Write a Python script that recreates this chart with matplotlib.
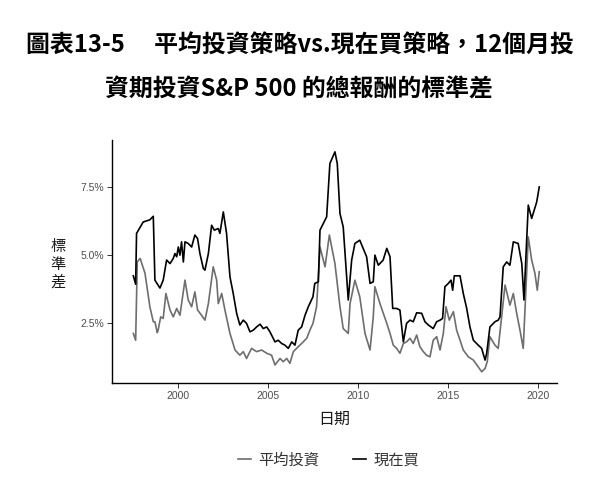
import numpy as np
import matplotlib.pyplot as plt

plt.rcParams['font.family'] = ['Noto Sans CJK TC', 'DejaVu Sans']

# decimal year, std dev in %
yr_now = [1997.52, 1997.65, 1997.70, 1998.07, 1998.44, 1998.63, 1998.72, 1999.00, 1999.18,
          1999.37, 1999.56, 1999.74, 1999.83, 1999.93, 2000.02, 2000.11, 2000.20, 2000.30,
          2000.39, 2000.57, 2000.76, 2000.94, 2001.09, 2001.22, 2001.41, 2001.50, 2001.69,
          2001.87, 2002.02, 2002.24, 2002.33, 2002.52, 2002.70, 2002.89, 2003.07, 2003.26,
          2003.44, 2003.63, 2003.81, 2004.00, 2004.18, 2004.37, 2004.56, 2004.74, 2004.93,
          2005.11, 2005.39, 2005.57, 2005.76, 2005.94, 2006.13, 2006.32, 2006.50, 2006.68,
          2006.87, 2007.06, 2007.24, 2007.50, 2007.60, 2007.80, 2007.89, 2008.26, 2008.44,
          2008.72, 2008.85, 2009.00, 2009.18, 2009.46, 2009.65, 2009.83, 2010.10, 2010.48,
          2010.67, 2010.85, 2010.94, 2011.13, 2011.40, 2011.60, 2011.78, 2011.93, 2012.15,
          2012.33, 2012.52, 2012.70, 2012.89, 2013.07, 2013.26, 2013.54, 2013.72, 2013.91,
          2014.18, 2014.37, 2014.56, 2014.70, 2014.83, 2015.02, 2015.17, 2015.26, 2015.35,
          2015.67, 2015.85, 2016.04, 2016.22, 2016.41, 2016.68, 2016.87, 2017.06, 2017.15,
          2017.33, 2017.61, 2017.79, 2017.89, 2018.07, 2018.26, 2018.44, 2018.63, 2018.90,
          2019.10, 2019.22, 2019.46, 2019.65, 2019.93, 2020.07]
sd_now = [4.24, 3.93, 5.80, 6.22, 6.30, 6.43, 4.08, 3.79, 4.08,
          4.82, 4.69, 4.88, 5.06, 4.94, 5.30, 5.00, 5.49, 4.75,
          5.49, 5.43, 5.30, 5.74, 5.61, 5.06, 4.51, 4.45, 5.06,
          6.10, 5.92, 5.98, 5.80, 6.59, 5.80, 4.20, 3.59, 2.86,
          2.43, 2.61, 2.49, 2.18, 2.24, 2.36, 2.46, 2.30, 2.36,
          2.18, 1.81, 1.87, 1.75, 1.69, 1.57, 1.81, 1.69, 2.24,
          2.36, 2.79, 3.10, 3.47, 3.96, 4.02, 5.92, 6.41, 8.37,
          8.80, 8.37, 6.53, 6.04, 3.35, 4.82, 5.43, 5.55, 4.94,
          3.96, 4.02, 5.00, 4.63, 4.82, 5.25, 4.94, 3.04, 3.04,
          2.98, 1.81, 2.49, 2.61, 2.55, 2.88, 2.86, 2.55, 2.43,
          2.30, 2.55, 2.61, 2.67, 3.84, 3.96, 4.08, 3.71, 4.24,
          4.24, 3.59, 3.04, 2.36, 1.87, 1.69, 1.57, 1.14, 1.39,
          2.36, 2.55, 2.61, 2.73, 4.57, 4.75, 4.63, 5.49, 5.43,
          4.69, 3.35, 6.84, 6.35, 6.96, 7.51]

yr_avg = [1997.52, 1997.65, 1997.74, 1997.90, 1998.17, 1998.44, 1998.63, 1998.72, 1998.85,
          1998.90, 1999.04, 1999.18, 1999.33, 1999.56, 1999.74, 1999.93, 2000.11, 2000.39,
          2000.57, 2000.76, 2000.94, 2001.09, 2001.31, 2001.50, 2001.69, 2001.96, 2002.15,
          2002.24, 2002.43, 2002.61, 2002.89, 2003.17, 2003.44, 2003.63, 2003.81, 2004.09,
          2004.37, 2004.65, 2004.93, 2005.20, 2005.39, 2005.67, 2005.85, 2006.04, 2006.22,
          2006.41, 2006.68, 2006.87, 2007.15, 2007.33, 2007.50, 2007.70, 2007.89, 2008.17,
          2008.41, 2008.72, 2009.00, 2009.18, 2009.46, 2009.56, 2009.83, 2010.10, 2010.39,
          2010.67, 2010.85, 2010.94, 2011.22, 2011.60, 2011.78, 2011.96, 2012.15, 2012.33,
          2012.52, 2012.70, 2012.89, 2013.07, 2013.26, 2013.44, 2013.63, 2013.81, 2014.00,
          2014.18, 2014.37, 2014.56, 2014.74, 2014.89, 2015.07, 2015.30, 2015.48, 2015.67,
          2015.85, 2016.13, 2016.41, 2016.68, 2016.87, 2017.06, 2017.18, 2017.33, 2017.61,
          2017.79, 2017.98, 2018.17, 2018.44, 2018.63, 2018.80, 2019.00, 2019.18, 2019.46,
          2019.65, 2019.83, 2019.96, 2020.07]
sd_avg = [2.12, 1.87, 4.75, 4.88, 4.33, 3.10, 2.55, 2.55, 2.15,
          2.24, 2.73, 2.67, 3.59, 2.98, 2.73, 3.04, 2.79, 4.08,
          3.35, 3.10, 3.65, 2.98, 2.79, 2.61, 3.22, 4.57, 4.08,
          3.22, 3.59, 2.98, 2.12, 1.51, 1.32, 1.45, 1.20, 1.57,
          1.45, 1.51, 1.39, 1.32, 0.96, 1.20, 1.08, 1.20, 1.02,
          1.45, 1.63, 1.75, 1.94, 2.24, 2.49, 3.10, 5.30, 4.57,
          5.74, 4.69, 3.10, 2.30, 2.12, 3.22, 4.08, 3.47, 2.12,
          1.51, 2.73, 3.84, 3.22, 2.49, 2.12, 1.69, 1.57, 1.39,
          1.75, 1.81, 1.94, 1.75, 2.06, 1.63, 1.45, 1.32, 1.26,
          1.87, 2.00, 1.51, 2.12, 3.10, 2.61, 2.92, 2.24, 1.87,
          1.51, 1.26, 1.14, 0.89, 0.71, 0.83, 1.08, 2.00, 1.69,
          1.57, 2.73, 3.90, 3.16, 3.59, 2.92, 2.24, 1.57, 5.67,
          4.82, 4.33, 3.71, 4.39]

xticks = [2000, 2005, 2010, 2015, 2020]
yticks = [2.5, 5.0, 7.5]

fig = plt.figure(figsize=(5.92, 4.97), dpi=100)
ax = fig.add_axes([0.189, 0.229, 0.752, 0.489])

ax.plot(yr_avg, sd_avg, color='#6e6e6e', lw=1.2, label='平均投資')
ax.plot(yr_now, sd_now, color='black', lw=1.2, label='現在買')

ax.set_xlim(1996.33, 2021.06)
ax.set_ylim(0.29, 9.23)
ax.set_xticks(xticks)
ax.set_yticks(yticks)
ax.set_yticklabels([f'{v:.1f}%' for v in yticks])
ax.tick_params(labelsize=7.5, colors='#333333', length=3.5, width=0.7, pad=2)
ax.tick_params(labelcolor='#4d4d4d')
for lab in ax.get_xticklabels() + ax.get_yticklabels():
    lab.set_family('Liberation Sans')
for s in ['top', 'right']:
    ax.spines[s].set_visible(False)
for s in ['left', 'bottom']:
    ax.spines[s].set_linewidth(1.0)

ax.set_xlabel('日期', fontsize=11.5, labelpad=7, color='#1a1a1a')
ax.set_ylabel('標\n準\n差', fontsize=11, rotation=0, va='center', labelpad=16,
              linespacing=1.05, color='#1a1a1a')
ax.yaxis.set_label_coords(-0.12, 0.49)

ax.legend(loc='upper center', bbox_to_anchor=(0.487, -0.225), ncol=2, frameon=False,
          fontsize=11, handlelength=0.85, columnspacing=2.2, handletextpad=0.5,
          labelcolor='#333333')

fig.text(0.507, 0.91, '圖表13-5\u3000 平均投資策略vs.現在買策略，12個月投',
         ha='center', va='center', fontsize=17.2, fontweight='bold')
fig.text(0.505, 0.819, '資期投資S&P 500 的總報酬的標準差',
         ha='center', va='center', fontsize=17.2, fontweight='bold')

fig.savefig('out.png', dpi=100)
